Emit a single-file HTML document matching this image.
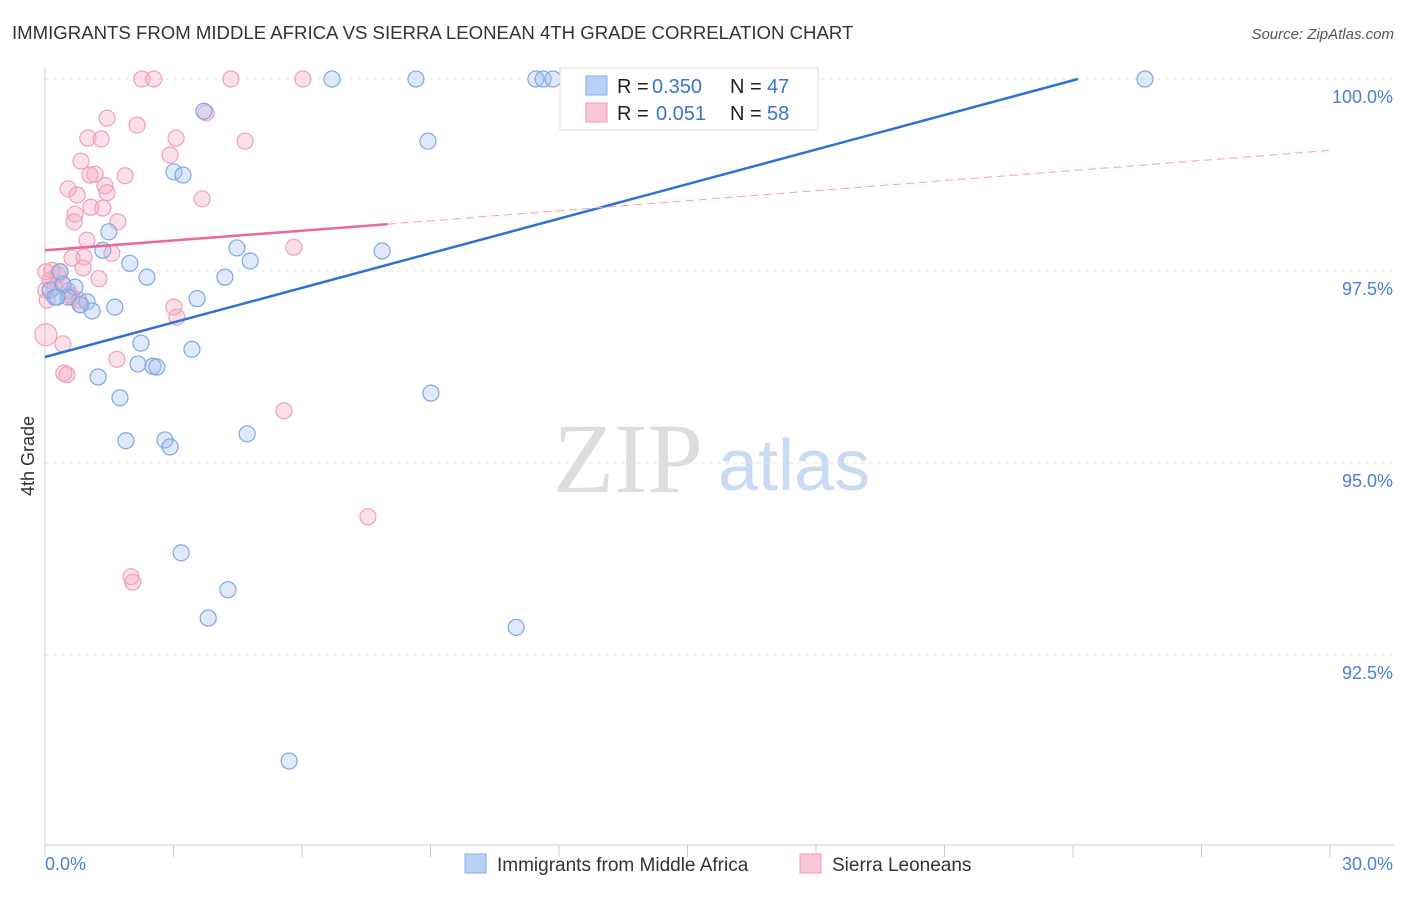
<!DOCTYPE html>
<html><head><meta charset="utf-8"><style>
body{margin:0;background:#fff;font-family:"Liberation Sans",sans-serif;}
svg text{font-family:"Liberation Sans",sans-serif;}
</style></head><body>
<svg id="chart" width="1406" height="892">
<text x="12" y="39" font-size="18.6" fill="#333">IMMIGRANTS FROM MIDDLE AFRICA VS SIERRA LEONEAN 4TH GRADE CORRELATION CHART</text>
<text x="1394" y="39" font-size="15" fill="#555" font-style="italic" text-anchor="end">Source: ZipAtlas.com</text>
<text x="34" y="456" font-size="18" fill="#333" transform="rotate(-90 34 456)" text-anchor="middle">4th Grade</text>
<text x="553" y="492" font-size="100" fill="#ddd" style="font-family:'Liberation Serif',serif">ZIP</text>
<text x="718" y="490" font-size="72" fill="#c9daf3">atlas</text>
<g id="grid"></g><g id="marks"></g><g id="lines"></g>
<g>
<rect x="560" y="68" width="258" height="62" fill="#fff" stroke="#ddd"/>
<rect x="586" y="76" width="21" height="19" fill="#b8d0f5" stroke="#86aee8"/>
<text x="617" y="93" font-size="20" fill="#222">R =</text>
<text x="652" y="93" font-size="20" fill="#3a73d0">0.350</text>
<text x="730" y="93" font-size="20" fill="#222">N =</text>
<text x="767" y="93" font-size="20" fill="#3a73d0">47</text>
<rect x="586" y="103" width="21" height="19" fill="#f8c6d5" stroke="#f09ab5"/>
<text x="617" y="120" font-size="20" fill="#222">R =</text>
<text x="656" y="120" font-size="20" fill="#3a73d0">0.051</text>
<text x="730" y="120" font-size="20" fill="#222">N =</text>
<text x="767" y="120" font-size="20" fill="#3a73d0">58</text>
</g>
<g>
<rect x="465" y="854" width="21" height="19" fill="#b8d0f5" stroke="#86aee8"/>
<text x="497" y="871" font-size="19" fill="#333">Immigrants from Middle Africa</text>
<rect x="800" y="854" width="21" height="19" fill="#f8c6d5" stroke="#f09ab5"/>
<text x="832" y="871" font-size="19" fill="#333">Sierra Leoneans</text>
</g>
</svg>
<script>
const yTicks=[100,97.5,95,92.5];
const yTickLabels=["100.0%","97.5%","95.0%","92.5%"];
const blueX=[6.70,8.66,11.46,11.63,11.86,25.68,3.71,8.94,3.01,3.22,1.49,4.48,1.35,7.87,4.79,1.98,2.38,4.20,0.35,0.70,0.23,0.54,0.98,1.63,1.10,3.55,2.24,3.43,2.17,2.52,2.61,1.24,1.75,9.01,1.89,2.80,2.92,4.72,3.18,4.27,3.81,11.00,5.70,0.12,0.82,0.42,0.28];
const blueY=[100,100,100,100,100,100,99.58,99.19,98.79,98.75,98.01,97.80,97.77,97.76,97.63,97.60,97.42,97.42,97.49,97.29,97.16,97.16,97.10,97.03,96.98,97.14,96.56,96.48,96.29,96.26,96.25,96.12,95.85,95.91,95.29,95.30,95.21,95.38,93.83,93.35,92.98,92.86,91.12,97.25,97.06,97.32,97.16];
const pinkX=[2.26,2.54,4.34,6.02,1.45,2.15,3.76,1.00,1.31,3.06,4.67,0.84,2.92,1.17,1.87,0.54,1.40,0.75,1.45,3.67,1.07,1.35,0.70,1.70,0.68,0.98,5.81,1.56,0.63,0.91,0.02,0.35,0.89,0.12,0.40,1.26,0.02,0.23,0.54,0.63,0.84,3.01,3.08,0.02,0.42,1.68,0.44,0.51,5.58,7.54,2.01,2.05,0.05,0.30,1.05,0.16,0.58,0.79];
const pinkY=[100,100,100,100,99.49,99.40,99.56,99.23,99.22,99.23,99.19,98.93,99.01,98.76,98.74,98.57,98.61,98.49,98.52,98.44,98.33,98.32,98.24,98.14,98.14,97.90,97.81,97.73,97.67,97.68,97.49,97.49,97.54,97.38,97.34,97.40,97.25,97.29,97.24,97.16,97.06,97.03,96.90,96.67,96.55,96.35,96.17,96.15,95.68,94.30,93.52,93.45,97.12,97.45,98.75,97.51,97.19,97.12];
const blueTrend=[[0,96.38],[24.12,100]];
const pinkTrend=[[0,97.77],[8.0,98.11]];
const pinkTrendDash=[[8.0,98.11],[30,99.07]];
const NS="http://www.w3.org/2000/svg";
const sx=v=>45+v/30*1285;
const sy=v=>79+(100-v)/2.5*192;
function mk(t,a,p){const e=document.createElementNS(NS,t);for(const k in a)e.setAttribute(k,a[k]);p.appendChild(e);return e;}
const grid=document.getElementById('grid');
yTicks.forEach((t,i)=>{
 const l=mk('line',{x1:45,x2:1394,y1:sy(t),y2:sy(t),stroke:'#e3e3e3','stroke-dasharray':'4 4'},grid);
 
 
 const tx=mk('text',{x:1393,y:sy(t)+24,'font-size':18,fill:'#4a7fd4','text-anchor':'end'},grid);
 tx.textContent=yTickLabels[i];
 
 
});
const ax=mk('line',{x1:45,x2:45,y1:68,y2:845,stroke:'#ccc'},grid);


const bx=mk('line',{x1:45,x2:1394,y1:845,y2:845,stroke:'#ccc'},grid);


for(let i=0;i<=10;i++){const t=mk('line',{x1:sx(i*3),x2:sx(i*3),y1:845,y2:857,stroke:'#ccc'},grid);
 
 }
[["0.0%",45,'start'],["30.0%",1393,'end']].forEach(d=>{const t=mk('text',{x:d[1],y:870,'font-size':18,fill:'#4a7fd4','text-anchor':d[2]},grid);t.textContent=d[0];
 
 });
const marks=document.getElementById('marks');
pinkX.forEach((x,i)=>{const c=mk('circle',{cx:sx(x),cy:sy(pinkY[i]),r:i==43?11:8,fill:'rgba(245,165,190,0.35)',stroke:'#f0a0ba','stroke-width':1.2},marks);
 
 });
blueX.forEach((x,i)=>{const c=mk('circle',{cx:sx(x),cy:sy(blueY[i]),r:8,fill:'rgba(160,192,240,0.35)',stroke:'#7fa8e4','stroke-width':1.2},marks);
 
 });
const lines=document.getElementById('lines');
const b=mk('line',{x1:sx(blueTrend[0][0]),y1:sy(blueTrend[0][1]),x2:sx(blueTrend[1][0]),y2:sy(blueTrend[1][1]),stroke:'#2f72d6','stroke-width':2.5},lines);


const p=mk('line',{x1:sx(pinkTrend[0][0]),y1:sy(pinkTrend[0][1]),x2:sx(pinkTrend[1][0]),y2:sy(pinkTrend[1][1]),stroke:'#e8699a','stroke-width':2.5},lines);


const pd=mk('line',{x1:sx(pinkTrendDash[0][0]),y1:sy(pinkTrendDash[0][1]),x2:sx(pinkTrendDash[1][0]),y2:sy(pinkTrendDash[1][1]),stroke:'#eaa0bc','stroke-width':1,'stroke-dasharray':'8 5'},lines);


</script>
</body></html>
